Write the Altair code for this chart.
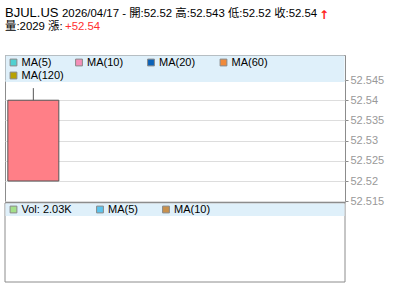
import altair as alt
import pandas as pd

# ---- data ----
symbol = "BJUL.US"
dates = ["2026/04/17"]
opens = [52.52]
highs = [52.543]
lows = [52.52]
closes = [52.54]
volumes = [2029]
changes = ["+52.54"]
price_ticks = [52.515, 52.52, 52.525, 52.53, 52.535, 52.54, 52.545]
price_legend = ["MA(5)", "MA(10)", "MA(20)", "MA(60)", "MA(120)"]
price_legend_colors = ["#4FD1D1", "#F48FB8", "#0B62B8", "#F08A3A", "#B8A200"]
vol_legend = ["Vol: 2.03K", "MA(5)", "MA(10)"]
vol_legend_colors = ["#A3E08A", "#5BC4EE", "#C8904C"]

# ---- layout (pixels relative to plot origin) ----
price_legend_pos = [(8.5, 7.5), (74, 7.5), (146, 7.5), (218.5, 7.5), (8.5, 20.5)]
vol_legend_pos = [(8.5, 154.5), (95, 154.5), (161, 154.5)]

FONT = "Liberation Sans, Noto Sans CJK TC, sans-serif"
GRAY = "#8c8c8c"

candles = pd.DataFrame({
    "date": dates, "i": list(range(len(dates))),
    "open": opens, "high": highs, "low": lows, "close": closes, "volume": volumes,
})

xs = alt.Scale(domain=[0, 6], nice=False, zero=False)
ys = alt.Scale(domain=[52.5148, 52.5512], nice=False, zero=False)

base = alt.Chart(candles).transform_calculate(
    x0="datum.i + 0.05", x1="datum.i + 0.95", xm="datum.i + 0.5",
    top="max(datum.open, datum.close)",
)

price_axis = alt.Axis(orient="right", values=price_ticks, format=".5~g",
                      grid=True, gridColor="#dddddd", domain=False,
                      labelOverlap=False, labelBound=False, labelFlush=False,
                      tickColor=GRAY, tickSize=3, labelPadding=2, title=None,
                      labelColor="#999999", labelFont=FONT, labelFontSize=11)

wick = base.mark_rule(color="#555555", strokeWidth=1).encode(
    x=alt.X("xm:Q", scale=xs, axis=None),
    y=alt.Y("high:Q", scale=ys, axis=price_axis),
    y2="top:Q",
)
body = base.mark_rect(fill="#FF7F87", stroke="#555555", strokeWidth=1).encode(
    x=alt.X("x0:Q", scale=xs, axis=None),
    x2="x1:Q",
    y=alt.Y("open:Q", scale=ys, axis=price_axis),
    y2="close:Q",
)

band_top = base.mark_rect(fill="#DFF0FA").encode(
    x=alt.value(0.5), x2=alt.value(339.5), y=alt.value(0.5), y2=alt.value(27))
vol_panel = base.mark_rect(fill="transparent", stroke=GRAY, strokeWidth=1).encode(
    x=alt.value(0), x2=alt.value(340), y=alt.value(148), y2=alt.value(227))
band_vol = base.mark_rect(fill="#DFF0FA").encode(
    x=alt.value(0.5), x2=alt.value(339.5), y=alt.value(148.5), y2=alt.value(161))

pl = pd.DataFrame({
    "label": price_legend, "color": price_legend_colors,
    "px": [p[0] for p in price_legend_pos], "py": [p[1] for p in price_legend_pos],
})
vl = pd.DataFrame({
    "label": vol_legend, "color": vol_legend_colors,
    "px": [p[0] for p in vol_legend_pos], "py": [p[1] for p in vol_legend_pos],
})
legend_df = pd.concat([pl, vl], ignore_index=True)
leg = alt.Chart(legend_df).transform_calculate(tx="datum.px + 8")
leg_sq = leg.mark_square(size=46, stroke="#888888", strokeWidth=1, opacity=1).encode(
    x=alt.X("px:Q", scale=None), y=alt.Y("py:Q", scale=None),
    fill=alt.Color("color:N", scale=None),
)
leg_tx = leg.mark_text(align="left", baseline="middle", font=FONT, fontSize=11,
                       color="#000000").encode(
    x=alt.X("tx:Q", scale=None), y=alt.Y("py:Q", scale=None), text="label:N",
)

# header
o, h, l, c = opens[0], highs[0], lows[0], closes[0]
line1 = f"{dates[0]} - 開:{o:g} 高:{h:g} 低:{l:g} 收:{c:g}"
line2 = f"量:{volumes[0]} 漲:"
t_sym = base.mark_text(text=symbol, align="left", baseline="middle", font=FONT,
                       fontSize=13, color="#000").encode(x=alt.value(0), y=alt.value(-42))
t_l1 = base.mark_text(text=line1, align="left", baseline="middle", font=FONT,
                      fontSize=11.4, color="#000").encode(x=alt.value(57), y=alt.value(-41))
t_arrow = base.mark_text(text="↑", align="left", baseline="middle", font="DejaVu Sans",
                         fontSize=12, fontWeight="bold", color="#FF2020").encode(
    x=alt.value(314), y=alt.value(-40))
t_l2 = base.mark_text(text=line2, align="left", baseline="middle", font=FONT,
                      fontSize=11.4, color="#000").encode(x=alt.value(0), y=alt.value(-28))
t_chg = base.mark_text(text=changes[0], align="left", baseline="middle", font=FONT,
                       fontSize=11.4, color="#FF3030").encode(x=alt.value(60), y=alt.value(-28))

chart = alt.layer(
    body, band_top, wick, vol_panel, band_vol, leg_sq, leg_tx,
    t_sym, t_l1, t_arrow, t_l2, t_chg,
).properties(
    width=340, height=147,
    autosize=alt.AutoSizeParams(type="none"),
    padding={"left": 5, "top": 55, "right": 55, "bottom": 99},
    background="white",
).configure_view(stroke=GRAY, strokeWidth=1)

chart.save("out.html", embed_options={"renderer": "svg", "actions": False})
